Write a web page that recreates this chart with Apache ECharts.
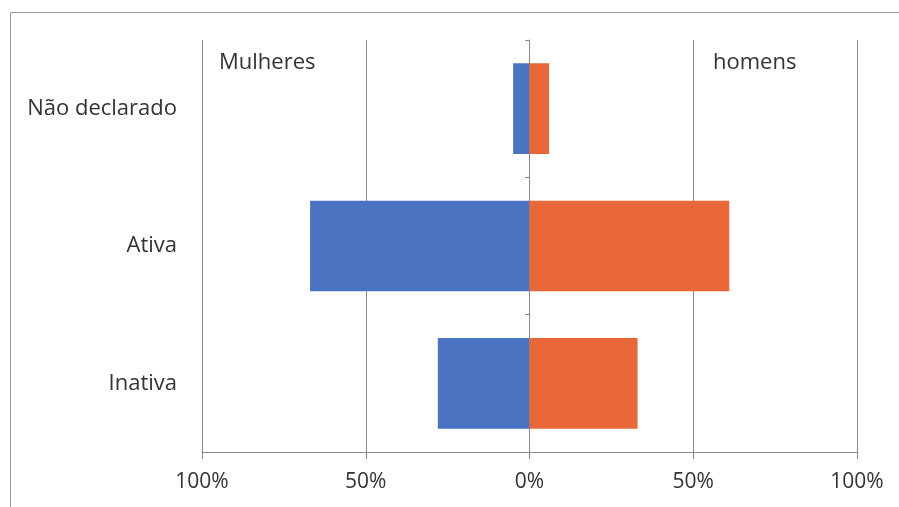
<!DOCTYPE html>
<html>
<head>
<meta charset="utf-8">
<script src="https://cdn.jsdelivr.net/npm/echarts@6/dist/echarts.min.js"></script>
<style>html,body{margin:0;padding:0;background:#fff;}#c{width:899px;height:507px;}</style>
</head>
<body>
<div id="c"></div>
<script>
var categories = ['Inativa', 'Ativa', 'Não declarado'];
var mulheres = [28, 67, 5];
var homens = [33, 61, 6];
var xTicks = [-100, -50, 0, 50, 100];
var FONT = '"Open Sans", Lato, sans-serif';

var chart = echarts.init(document.getElementById('c'));
chart.setOption({
  animation: false,
  backgroundColor: '#fff',
  grid: { left: 202, right: 42, top: 40, bottom: 55, containLabel: false, outerBoundsMode: 'none' },
  graphic: [
    { type: 'rect', shape: { x: 10.5, y: 12.5, width: 900, height: 520 }, style: { fill: 'none', stroke: '#9a9a9a', lineWidth: 1 }, silent: true },
    { type: 'text', x: 219, y: 63, style: { text: 'Mulheres', font: '22px ' + FONT, fill: '#333', verticalAlign: 'middle' } },
    { type: 'text', x: 713, y: 63, style: { text: 'homens', font: '22px ' + FONT, fill: '#333', verticalAlign: 'middle' } }
  ],
  xAxis: {
    type: 'value',
    min: xTicks[0], max: xTicks[xTicks.length - 1], interval: 50,
    axisLine: { show: true, onZero: false, lineStyle: { color: '#8a8a8a', width: 1 } },
    axisTick: { show: true, length: 7, lineStyle: { color: '#8a8a8a' } },
    splitLine: { show: true, lineStyle: { color: '#8a8a8a', width: 1 } },
    axisLabel: { formatter: function (v) { return Math.abs(v) + '%'; }, fontFamily: FONT, fontSize: 21, color: '#333', margin: 20 }
  },
  yAxis: [
    {
      type: 'category', data: categories, position: 'left',
      axisLine: { show: false, onZero: false }, axisTick: { show: false },
      axisLabel: { fontFamily: FONT, fontSize: 22, color: '#333', margin: 25 }
    },
    {
      type: 'category', data: categories, position: 'left', offset: -327,
      axisLine: { show: true, onZero: false, lineStyle: { color: '#8a8a8a', width: 1 } },
      axisTick: { show: true, length: 4, lineStyle: { color: '#8a8a8a' } },
      axisLabel: { show: false }
    }
  ],
  series: [
    {
      name: 'Mulheres', type: 'bar', stack: 'total', yAxisIndex: 0,
      data: mulheres.map(function (v) { return -v; }),
      barCategoryGap: '34%',
      itemStyle: { color: '#4a74c1' }
    },
    {
      name: 'homens', type: 'bar', stack: 'total', yAxisIndex: 0,
      data: homens,
      barCategoryGap: '34%',
      itemStyle: { color: '#e9683a' }
    }
  ]
});
</script>
</body>
</html>
